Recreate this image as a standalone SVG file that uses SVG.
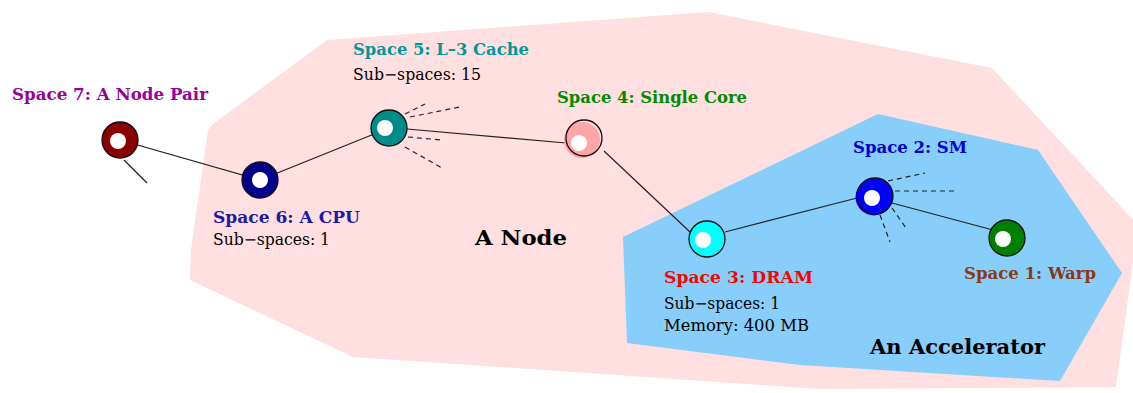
<svg xmlns="http://www.w3.org/2000/svg" width="1133" height="393" viewBox="0 0 1133 393">
<style>
.lbl{font-family:"DejaVu Serif","Liberation Serif",serif;font-size:16.5px;font-weight:bold}
.sub{font-family:"DejaVu Serif","Liberation Serif",serif;font-size:16px;fill:#000}
.big{font-family:"DejaVu Serif","Liberation Serif",serif;font-size:21px;font-weight:bold;fill:#000}
.edge{stroke:#222;stroke-width:1.2;fill:none}
.dash{stroke:#222;stroke-width:1.2;fill:none;stroke-dasharray:5,4}
.ring{stroke:#111;stroke-width:1.3}
.hole{fill:#fff}
</style>
<rect width="1133" height="393" fill="#fff"/>
<g id="region-node">
<polygon points="327,40 708,12 992,68 1138,225 1116,387 820,389 353,357 190,280 191,250 208,130 213,124" fill="#ffdfdf"/>
</g>
<g id="region-accelerator">
<polygon points="623,237 878,114 1038,150 1122,273 1060,381 800,365 627,343" fill="#87cefa"/>
</g>
<g id="connectors">
<line class="edge" x1="120" y1="140" x2="260" y2="180"/>
<line class="edge" x1="124" y1="160" x2="147" y2="183"/>
<line class="edge" x1="260" y1="180" x2="389" y2="128"/>
<line class="edge" x1="407" y1="129" x2="566" y2="143"/>
<line class="edge" x1="604" y1="151" x2="690" y2="232"/>
<line class="edge" x1="725" y1="232" x2="857" y2="198"/>
<line class="edge" x1="892" y1="203" x2="993" y2="230"/>
<line class="dash" x1="405" y1="114" x2="425" y2="104"/>
<line class="dash" x1="410" y1="117" x2="460" y2="107"/>
<line class="dash" x1="408" y1="137" x2="442" y2="140"/>
<line class="dash" x1="405" y1="147" x2="442" y2="168"/>
<line class="dash" x1="888" y1="181" x2="925" y2="173"/>
<line class="dash" x1="895" y1="191" x2="957" y2="191"/>
<line class="dash" x1="892" y1="208" x2="906" y2="228"/>
<line class="dash" x1="880" y1="215" x2="890" y2="242"/>
</g>
<g id="space7">
<circle class="ring" cx="120" cy="140" r="18" fill="#8b0000"/>
<circle class="hole" cx="118" cy="141" r="8"/>
<text class="lbl" x="12" y="100" fill="#990099" textLength="196" lengthAdjust="spacingAndGlyphs">Space 7: A Node Pair</text>
</g>
<g id="space6">
<circle class="ring" cx="260" cy="180" r="18" fill="#00008b"/>
<circle class="hole" cx="260" cy="180" r="8"/>
<text class="lbl" x="213" y="223" fill="#1a1aaa" textLength="147" lengthAdjust="spacingAndGlyphs">Space 6: A CPU</text>
<text class="sub" x="213" y="245" textLength="117" lengthAdjust="spacingAndGlyphs">Sub−spaces: 1</text>
</g>
<g id="space5">
<circle class="ring" cx="389" cy="128" r="18" fill="#008b8b"/>
<circle class="hole" cx="385" cy="128" r="8"/>
<text class="lbl" x="353" y="55" fill="#009999" textLength="176" lengthAdjust="spacingAndGlyphs">Space 5: L–3 Cache</text>
<text class="sub" x="353" y="80" textLength="128" lengthAdjust="spacingAndGlyphs">Sub−spaces: 15</text>
</g>
<g id="space4">
<circle cx="582" cy="140" r="18" fill="#ffa5a5"/>
<circle class="ring" cx="584" cy="138" r="18" fill="none"/>
<circle class="hole" cx="579" cy="143" r="8"/>
<text class="lbl" x="557" y="103" fill="#008c00" textLength="190" lengthAdjust="spacingAndGlyphs">Space 4: Single Core</text>
</g>
<g id="space3">
<circle class="ring" cx="707" cy="239" r="18" fill="#00ffff"/>
<circle class="hole" cx="703" cy="240" r="8"/>
<text class="lbl" x="664" y="283" fill="#ff0000" textLength="149" lengthAdjust="spacingAndGlyphs">Space 3: DRAM</text>
<text class="sub" x="664" y="309" textLength="116" lengthAdjust="spacingAndGlyphs">Sub−spaces: 1</text>
<text class="sub" x="664" y="331" textLength="145" lengthAdjust="spacingAndGlyphs">Memory: 400 MB</text>
</g>
<g id="space2">
<circle cx="874" cy="197" r="18.5" fill="#0000ff"/>
<circle class="ring" cx="875" cy="196" r="18" fill="#0000ff"/>
<circle class="hole" cx="872" cy="198" r="8"/>
<text class="lbl" x="853" y="153" fill="#0000cc" textLength="114" lengthAdjust="spacingAndGlyphs">Space 2: SM</text>
</g>
<g id="space1">
<circle class="ring" cx="1007" cy="238" r="18" fill="#008000"/>
<circle class="hole" cx="1003" cy="239" r="8"/>
<text class="lbl" x="964" y="279" fill="#8b3a0f" textLength="132" lengthAdjust="spacingAndGlyphs">Space 1: Warp</text>
</g>
<g id="label-node">
<text class="big" x="475" y="245" textLength="92" lengthAdjust="spacingAndGlyphs">A Node</text>
</g>
<g id="label-accelerator">
<text class="big" x="870" y="354" textLength="175" lengthAdjust="spacingAndGlyphs">An Accelerator</text>
</g>
</svg>
